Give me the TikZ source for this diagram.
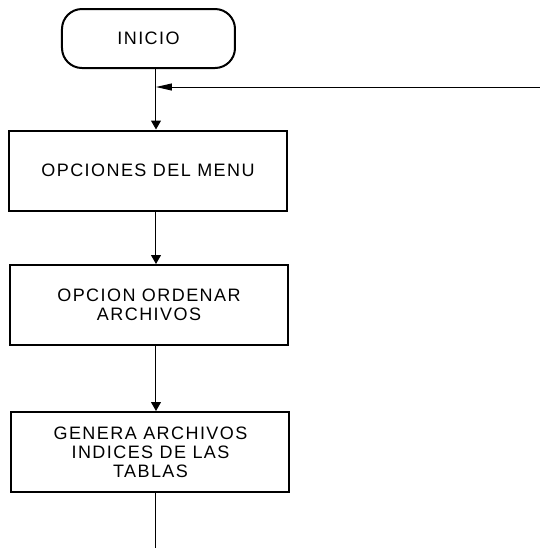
\documentclass[tikz,border=0pt]{standalone}
\usepackage{fontspec}
\newfontfamily\boxfont[LetterSpace=8]{Liberation Sans}
\usetikzlibrary{arrows.meta}
\tikzset{
  stepbox/.style={draw, line width=1pt, minimum width=139pt, minimum height=40pt,
                  font=\boxfont\fontsize{9}{9.5}\selectfont, align=center, inner sep=2pt},
  startbox/.style={stepbox, rounded corners=10pt, minimum width=86.5pt, minimum height=29.5pt},
  flow/.style={line width=0.5pt, -{Triangle[length=4.5pt,width=5pt]}},
  backflow/.style={line width=0.5pt, -{Triangle[length=8pt,width=3.5pt]}},
}
\begin{document}
\begin{tikzpicture}
    \useasboundingbox (0pt,0pt) rectangle (270pt,-274pt);
    \coordinate (spine) at (78pt, 0pt);
    \node[startbox] (inicio) at (74.25pt, -19.25pt) {INICIO};
    \node[stepbox] (menu) at (74pt, -85.25pt) {OPCIONES DEL MENU};
    \node[stepbox] (ordenar) at (74.5pt, -152.5pt) {OPCION ORDENAR\\ARCHIVOS};
    \node[stepbox] (indices) at (75.25pt, -226pt) {GENERA ARCHIVOS\\INDICES DE LAS\\TABLAS};
    \coordinate (regreso) at (270pt, -43.5pt);
    \coordinate (salida) at (78pt, -274pt);
    \draw[flow] (inicio.south -| spine) -- (menu.north -| spine);
    \draw[backflow] (regreso) -- (regreso -| spine);
    \draw[flow] (menu.south -| spine) -- (ordenar.north -| spine);
    \draw[flow] (ordenar.south -| spine) -- (indices.north -| spine);
    \draw[line width=0.5pt] (indices.south -| spine) -- (salida);
  \end{tikzpicture}
\end{document}
